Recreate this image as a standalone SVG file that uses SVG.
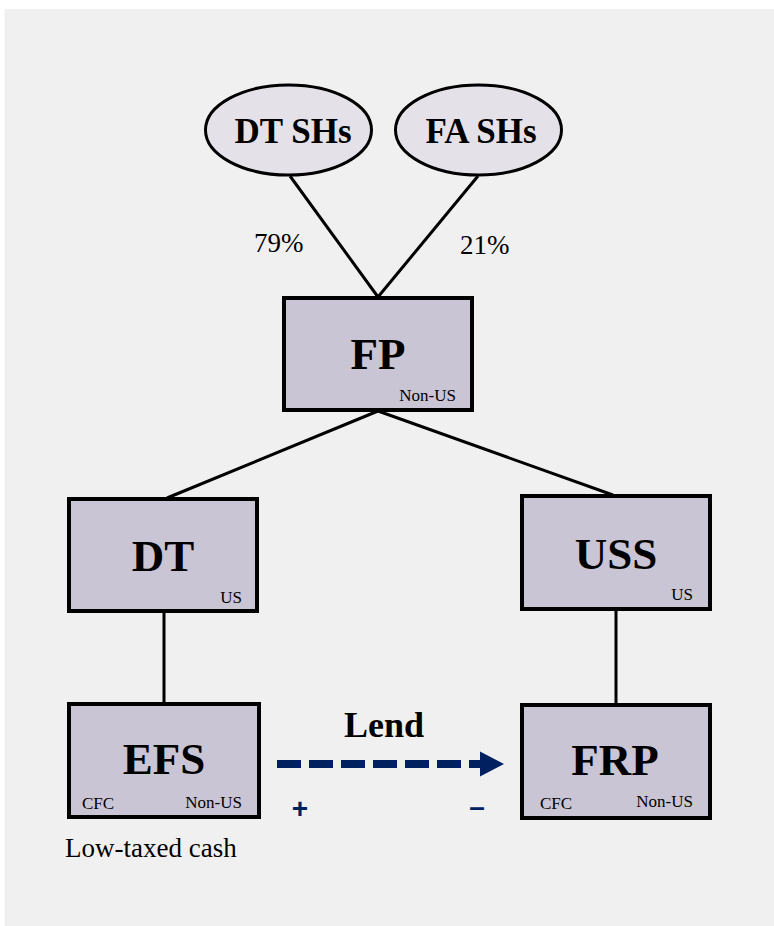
<svg xmlns="http://www.w3.org/2000/svg" width="774" height="926" viewBox="0 0 774 926">
<style>
.box{fill:#cac5d4;stroke:#000;stroke-width:4}
.ell{fill:#e4e2e8;stroke:#000;stroke-width:3}
.big{font-family:"Liberation Serif",serif;font-weight:bold;font-size:45px;fill:#000;text-anchor:middle}
.sh{font-family:"Liberation Serif",serif;font-weight:bold;font-size:35px;fill:#000;text-anchor:middle}
.sm{font-family:"Liberation Serif",serif;font-size:17px;fill:#000}
.lbl{font-family:"Liberation Serif",serif;font-size:27px;fill:#000}
.ln{stroke:#000;stroke-width:3;fill:none}
.nv{font-family:"Liberation Sans",sans-serif;font-weight:bold;font-size:28px;fill:#002060;text-anchor:middle}
</style>
<rect x="4.5" y="9" width="770" height="917" fill="#f0f0f0"/>
<g id="connectors">
<line class="ln" x1="290" y1="176" x2="378" y2="297"/>
<line class="ln" x1="478" y1="176" x2="378" y2="297"/>
<line class="ln" x1="378" y1="411" x2="167" y2="498"/>
<line class="ln" x1="378" y1="411" x2="613" y2="495"/>
<line class="ln" x1="164" y1="612" x2="164" y2="703"/>
<line class="ln" x1="616" y1="610" x2="616" y2="704"/>
<g id="lend">
<line x1="277" y1="764" x2="482" y2="764" stroke="#002060" stroke-width="8" stroke-dasharray="24 8"/>
<polygon points="480,751.5 504,764 480,776.5" fill="#002060"/>
</g>
</g>
<text class="lbl" x="254" y="252">79%</text>
<text class="lbl" x="460" y="254">21%</text>
<g id="dtshs">
<ellipse class="ell" cx="288.5" cy="130" rx="83" ry="45"/>
<text class="sh" x="293" y="143">DT SHs</text>
</g>
<g id="fashs">
<ellipse class="ell" cx="478.5" cy="130" rx="83" ry="45"/>
<text class="sh" x="481" y="143">FA SHs</text>
</g>
<g id="fp">
<rect class="box" x="284" y="298" width="188" height="112"/>
<text class="big" x="378" y="369">FP</text>
<text class="sm" x="456" y="401" text-anchor="end">Non-US</text>
</g>
<g id="dt">
<rect class="box" x="69" y="499" width="188" height="112"/>
<text class="big" x="163" y="571">DT</text>
<text class="sm" x="242" y="603" text-anchor="end">US</text>
</g>
<g id="uss">
<rect class="box" x="522" y="496" width="188" height="113"/>
<text class="big" x="616" y="569">USS</text>
<text class="sm" x="693" y="600" text-anchor="end">US</text>
</g>
<g id="efs">
<rect class="box" x="69" y="704" width="190" height="113"/>
<text class="big" x="164" y="774">EFS</text>
<text class="sm" x="82" y="809">CFC</text>
<text class="sm" x="242" y="808" text-anchor="end">Non-US</text>
</g>
<g id="frp">
<rect class="box" x="522" y="705" width="188" height="113"/>
<text class="big" x="615" y="775">FRP</text>
<text class="sm" x="540" y="809">CFC</text>
<text class="sm" x="693" y="807" text-anchor="end">Non-US</text>
</g>
<text class="sh" x="384" y="737" style="font-size:36px">Lend</text>
<text class="nv" x="300" y="818">+</text>
<text class="nv" x="477" y="816">–</text>
<text class="lbl" x="65" y="857">Low-taxed cash</text>
</svg>
